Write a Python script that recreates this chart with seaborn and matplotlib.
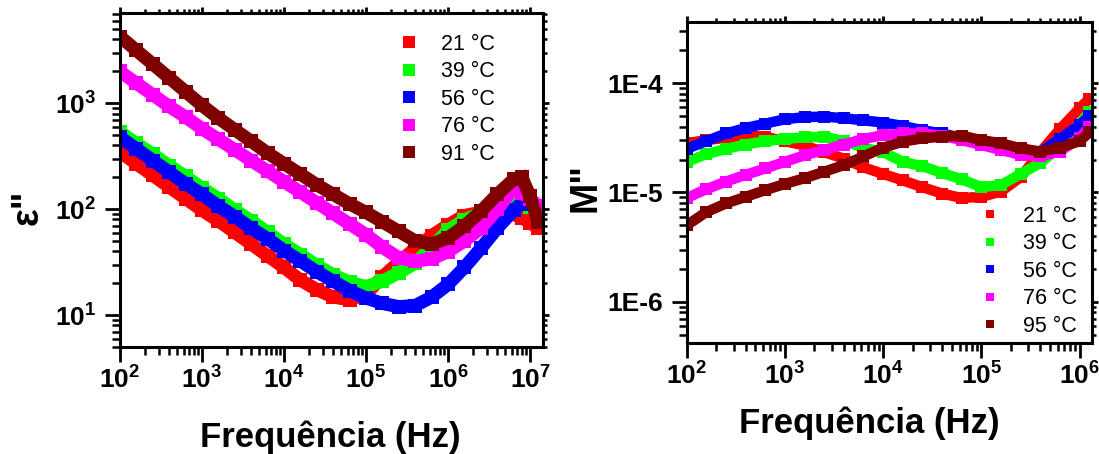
import numpy as np
import pandas as pd
import matplotlib
matplotlib.use("Agg")
import matplotlib.pyplot as plt
from matplotlib.lines import Line2D
from matplotlib.ticker import LogLocator, FuncFormatter, NullFormatter
import seaborn as sns

# ---------------- data ----------------
# left panel: epsilon'' vs frequency (Hz)
freq_eps = [100, 158, 251, 398, 631, 1000, 1585, 2512, 3981, 6310,
            1.0e4, 1.585e4, 2.512e4, 3.981e4, 6.310e4, 1.0e5, 1.585e5, 2.512e5,
            3.981e5, 6.310e5, 1.0e6, 1.585e6, 2.512e6, 3.981e6, 6.310e6,
            7.943e6, 1.0e7, 1.259e7]
eps_21 = [347, 269, 209, 162, 126, 97.7, 77.6, 60.3, 46.8, 36.3, 28.2, 21.4, 17.4,
          14.8, 14.0, 15.8, 22.9, 31.6, 42.7, 56.2, 70.8, 87.1, 93.3, 91.2, 89.1,
          83.2, 74.1, 66.1]
eps_39 = [537, 417, 331, 257, 204, 158, 126, 97.7, 77.6, 60.3, 46.8, 37.2, 29.5,
          24.0, 20.4, 18.6, 20.9, 25.1, 30.9, 43.7, 63.1, 79.4, 91.2, 107, 120,
          117, 105, 93.3]
eps_56 = [479, 372, 288, 224, 174, 138, 107, 85.1, 66.1, 52.5, 40.7, 32.4, 25.7,
          20.9, 17.0, 14.5, 12.9, 12.0, 12.3, 14.8, 19.5, 28.2, 42.7, 66.1, 97.7,
          115, 112, 97.7]
eps_76 = [1995, 1549, 1202, 933, 741, 575, 457, 363, 288, 229, 182, 145, 115, 91.2,
          72.4, 57.5, 43.7, 34.7, 32.4, 33.9, 39.8, 50.1, 66.1, 100, 158, 141, 126, 107]
eps_91 = [4266, 3162, 2344, 1738, 1288, 955, 724, 562, 437, 339, 269, 214, 170, 138,
          112, 93.3, 75.9, 61.7, 50.1, 46.8, 53.7, 69.2, 95.5, 138, 191, 200, 132, 75.9]
eps_labels = ["21 \u00b0C", "39 \u00b0C", "56 \u00b0C", "76 \u00b0C", "91 \u00b0C"]

# right panel: M'' vs frequency (Hz)
freq_m = [100, 158, 251, 398, 631, 1000, 1585, 2512, 3981, 6310,
          1.0e4, 1.585e4, 2.512e4, 3.981e4, 6.310e4, 1.0e5, 1.585e5, 2.512e5,
          3.981e5, 6.310e5, 1.0e6, 1.259e6]
m_21 = [2.82e-5, 3.02e-5, 3.16e-5, 3.31e-5, 3.24e-5, 2.95e-5, 2.69e-5, 2.34e-5,
        2.04e-5, 1.70e-5, 1.48e-5, 1.29e-5, 1.12e-5, 9.77e-6, 8.91e-6, 9.12e-6,
        1.02e-5, 1.38e-5, 2.34e-5, 3.80e-5, 5.89e-5, 7.24e-5]
m_39 = [1.91e-5, 2.24e-5, 2.51e-5, 2.75e-5, 2.95e-5, 3.09e-5, 3.20e-5, 3.24e-5,
        2.95e-5, 2.57e-5, 2.34e-5, 1.91e-5, 1.74e-5, 1.51e-5, 1.32e-5, 1.12e-5,
        1.17e-5, 1.48e-5, 1.86e-5, 2.63e-5, 4.17e-5, 5.50e-5]
m_56 = [2.51e-5, 2.95e-5, 3.47e-5, 3.89e-5, 4.27e-5, 4.68e-5, 4.90e-5, 4.95e-5,
        4.79e-5, 4.57e-5, 4.37e-5, 4.07e-5, 3.72e-5, 3.47e-5, 3.16e-5, 2.88e-5,
        2.63e-5, 2.40e-5, 2.34e-5, 3.09e-5, 4.17e-5, 5.01e-5]
m_76 = [8.91e-6, 1.07e-5, 1.26e-5, 1.45e-5, 1.66e-5, 1.91e-5, 2.19e-5, 2.45e-5,
        2.75e-5, 3.09e-5, 3.35e-5, 3.47e-5, 3.47e-5, 3.31e-5, 3.02e-5, 2.72e-5,
        2.45e-5, 2.21e-5, 2.14e-5, 2.37e-5, 3.16e-5, 3.98e-5]
m_95 = [5.01e-6, 6.61e-6, 7.94e-6, 9.12e-6, 1.05e-5, 1.20e-5, 1.35e-5, 1.55e-5,
        1.78e-5, 2.14e-5, 2.57e-5, 2.92e-5, 3.13e-5, 3.24e-5, 3.31e-5, 3.02e-5,
        2.82e-5, 2.54e-5, 2.37e-5, 2.57e-5, 2.95e-5, 3.55e-5]
m_labels = ["21 \u00b0C", "39 \u00b0C", "56 \u00b0C", "76 \u00b0C", "95 \u00b0C"]

colors = ["#FF0000", "#00FF00", "#0000FF", "#FF00FF", "#800000"]

# ---------------- style ----------------
sns.set_style("ticks")
plt.rcParams["font.family"] = ["Liberation Sans", "DejaVu Sans"]
plt.rcParams["mathtext.fontset"] = "custom"
plt.rcParams["mathtext.rm"] = "Liberation Sans"
plt.rcParams["mathtext.bf"] = "Liberation Sans:bold"
plt.rcParams["mathtext.it"] = "Liberation Sans:italic"
for k in ["text.color", "axes.labelcolor", "xtick.color", "ytick.color",
          "axes.edgecolor"]:
    plt.rcParams[k] = "black"

W, H = 1099, 454
fig = plt.figure(figsize=(W / 100, H / 100), dpi=100)


def px_axes(l, t, r, b):
    return fig.add_axes([l / W, 1 - b / H, (r - l) / W, (b - t) / H])


ax1 = px_axes(120, 12.7, 543.3, 347)
ax2 = px_axes(686.7, 21.7, 1091.7, 343)


def draw(ax, freq, series, ms, lw):
    ax.set_xscale("log")
    ax.set_yscale("log")
    for vals, col in series:
        df = pd.DataFrame({"f": freq, "v": vals})
        sns.lineplot(data=df, x="f", y="v", ax=ax, color=col, marker="s",
                     markersize=ms, markeredgewidth=0, linewidth=lw,
                     estimator=None, sort=False, legend=False,
                     solid_capstyle="butt", solid_joinstyle="miter")


draw(ax1, freq_eps, list(zip([eps_21, eps_39, eps_56, eps_76, eps_91], colors)), 9.5, 9.5)
draw(ax2, freq_m, list(zip([m_21, m_39, m_56, m_76, m_95], colors)), 8, 7.5)

ax1.set_xlim(100, 1.45e7)
ax1.set_ylim(5.0, 7160)
ax2.set_xlim(100, 1.33e6)
ax2.set_ylim(4.19e-7, 3.66e-4)

pow_fmt = FuncFormatter(lambda v, p: r"$\mathbf{10^{%d}}$" % int(round(np.log10(v))))
e_fmt = FuncFormatter(lambda v, p: "1E%d" % int(round(np.log10(v))))

for ax in (ax1, ax2):
    ax.set_xlabel("")
    ax.set_ylabel("")
    ax.xaxis.set_major_locator(LogLocator(base=10, numticks=20))
    ax.yaxis.set_major_locator(LogLocator(base=10, numticks=20))
    ax.xaxis.set_minor_locator(LogLocator(base=10, subs=np.arange(2, 10), numticks=50))
    ax.yaxis.set_minor_locator(LogLocator(base=10, subs=np.arange(2, 10), numticks=50))
    ax.xaxis.set_minor_formatter(NullFormatter())
    ax.yaxis.set_minor_formatter(NullFormatter())
    ax.xaxis.set_major_formatter(pow_fmt)
    for s in ax.spines.values():
        s.set_visible(True)
        s.set_linewidth(2.2)
        s.set_color("black")
    ax.tick_params(which="major", direction="out", length=11, width=2.0,
                   top=True, right=True, labelsize=19, color="black",
                   labelcolor="black")
    ax.tick_params(which="minor", direction="out", length=5.5, width=1.8,
                   top=True, right=True, color="black")
    ax.tick_params(axis="x", which="major", pad=3)
    ax.tick_params(axis="y", which="major", pad=6)

for ax in (ax1, ax2):
    for t in ax.xaxis.get_major_ticks() + ax.yaxis.get_major_ticks():
        t.tick2line.set_markersize(4)
    for t in ax.xaxis.get_minor_ticks() + ax.yaxis.get_minor_ticks():
        t.tick2line.set_markersize(3)

ax1.yaxis.set_major_formatter(pow_fmt)
ax2.yaxis.set_major_formatter(e_fmt)
for ax in (ax1, ax2):
    for lab in ax.get_xticklabels() + ax.get_yticklabels():
        lab.set_fontweight("bold")
        lab.set_color("black")


def make_legend(ax, labels, ms, x_px, y_px):
    handles = [Line2D([0], [0], marker="s", color=c, linestyle="none",
                      markersize=ms, markeredgewidth=0) for c in colors]
    leg = ax.legend(handles, labels, loc="upper left",
                    bbox_to_anchor=(x_px / W, 1 - y_px / H),
                    bbox_transform=fig.transFigure, frameon=False, fontsize=15.5,
                    handlelength=1.0, handletextpad=1.0, labelspacing=0.30,
                    borderpad=0, borderaxespad=0)
    for t in leg.get_texts():
        t.set_color("black")


make_legend(ax1, eps_labels, 8, 398, 34)
make_legend(ax2, m_labels, 6, 979.6, 206)

fig.text(330 / W, 1 - 437 / H, "Frequ\u00eancia (Hz)", ha="center", va="center",
         fontsize=25, fontweight="bold", color="black")
fig.text(869 / W, 1 - 423 / H, "Frequ\u00eancia (Hz)", ha="center", va="center",
         fontsize=25, fontweight="bold", color="black")
fig.text(28 / W, 1 - 207 / H, "\u03b5\"", ha="center", va="center", rotation=90,
         fontsize=27, fontweight="bold", color="black")
fig.text(585 / W, 1 - 187 / H, "M\"", ha="center", va="center", rotation=90,
         fontsize=27, fontweight="bold", color="black")

fig.savefig("out.png", dpi=100, facecolor="white")
